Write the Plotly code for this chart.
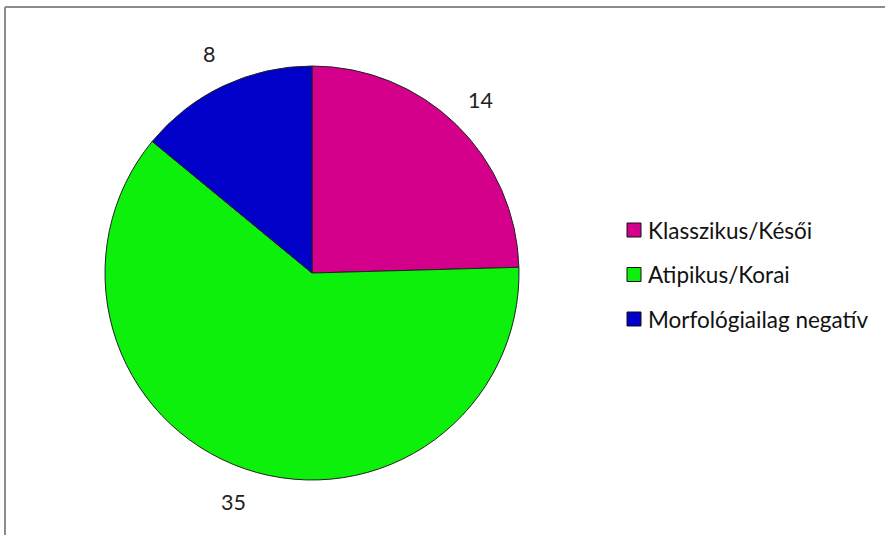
import math
import plotly.graph_objects as go

# Data
labels = ["Klasszikus/Késői", "Atipikus/Korai", "Morfológiailag negatív"]
values = [14, 35, 8]
colors = ["#D4008C", "#0CF00C", "#0000C8"]

W, H = 885, 535
FONT = "Lato"
FONT_SIZE = 22.5

# Pie placement in pixels
cx, cy, r = 312, 273, 207

def px(x):
    return x / W

def py(y):
    return 1 - y / H

fig = go.Figure(
    go.Pie(
        labels=labels,
        values=values,
        marker=dict(colors=colors, line=dict(color="#222222", width=1)),
        sort=False,
        direction="clockwise",
        rotation=0,
        textinfo="none",
        hoverinfo="label+value",
        showlegend=False,
        domain=dict(x=[px(cx - r), px(cx + r)], y=[py(cy + r), py(cy - r)]),
    )
)

annotations = []
# Value labels placed outside the slices, at each slice's mid angle
total = sum(values)
cum = 0
label_r = 242
for v in values:
    mid = (cum + v / 2) / total * 2 * math.pi
    cum += v
    x = cx + label_r * math.sin(mid)
    y = cy - label_r * math.cos(mid)
    annotations.append(dict(
        x=px(x), y=py(y), xref="paper", yref="paper", text=str(v),
        showarrow=False, font=dict(family=FONT, size=FONT_SIZE - 1, color="#222222"),
        xanchor="center", yanchor="middle",
    ))

# Legend drawn as swatches + text
shapes = []
leg_x, leg_y0, leg_dy, sq = 627, 230, 44.5, 14
for i, (lab, col) in enumerate(zip(labels, colors)):
    yc = leg_y0 + i * leg_dy
    shapes.append(dict(
        type="rect", xref="paper", yref="paper",
        x0=px(leg_x), x1=px(leg_x + sq), y0=py(yc + sq / 2), y1=py(yc - sq / 2),
        fillcolor=col, line=dict(color="#111111", width=1),
    ))
    annotations.append(dict(
        x=px(leg_x + sq + 5), y=py(yc), xref="paper", yref="paper", text=lab,
        showarrow=False, font=dict(family=FONT, size=FONT_SIZE, color="#111111"),
        xanchor="left", yanchor="middle",
    ))

# Chart frame (top and left edges)
frame = "#8C8C8C"
shapes.append(dict(type="line", xref="paper", yref="paper",
                   x0=px(5), x1=1.02, y0=py(7), y1=py(7),
                   line=dict(color=frame, width=2)))
shapes.append(dict(type="line", xref="paper", yref="paper",
                   x0=px(5), x1=px(5), y0=py(7), y1=-0.02,
                   line=dict(color=frame, width=2)))

fig.update_layout(
    width=W, height=H,
    margin=dict(l=0, r=0, t=0, b=0),
    paper_bgcolor="white", plot_bgcolor="white",
    annotations=annotations, shapes=shapes,
)

fig.write_html("out.html")
